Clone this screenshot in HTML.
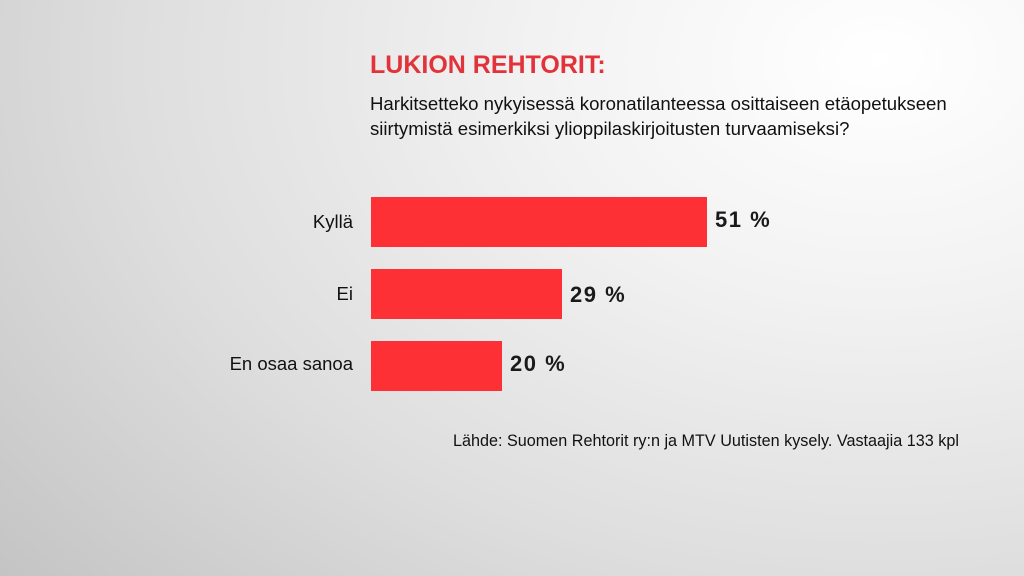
<!DOCTYPE html>
<html><head><meta charset="utf-8"><style>
html,body{margin:0;padding:0}
body{width:1024px;height:576px;position:relative;overflow:hidden;font-family:"Liberation Sans",sans-serif;
background:radial-gradient(ellipse 1150px 800px at 880px 60px,#ffffff 0%,#f2f2f2 30%,#dedede 65%,#c4c4c4 100%);}
.t{position:absolute;white-space:nowrap}
.bar{position:absolute;left:371px;height:50px;background:#fd3036}
.lab{position:absolute;right:671px;font-size:18.5px;color:#111}
.val{position:absolute;font-size:22px;font-weight:bold;color:#1a1a1a;letter-spacing:1.5px}
</style></head><body>
<div class="t" style="left:370px;top:51px;font-size:25px;font-weight:bold;color:#e3333a">LUKION REHTORIT:</div>
<div class="t" style="left:370px;top:91px;font-size:18.6px;line-height:25px;color:#111">Harkitsetteko nykyisessä koronatilanteessa osittaiseen etäopetukseen<br>siirtymistä esimerkiksi ylioppilaskirjoitusten turvaamiseksi?</div>
<div class="bar" style="top:197px;width:336px"></div>
<div class="bar" style="top:269px;width:191px"></div>
<div class="bar" style="top:341px;width:131px"></div>
<div class="t lab" style="top:211px">Kyllä</div>
<div class="t lab" style="top:283px">Ei</div>
<div class="t lab" style="top:353px">En osaa sanoa</div>
<div class="t val" style="left:715px;top:207px">51 %</div>
<div class="t val" style="left:570px;top:282px">29 %</div>
<div class="t val" style="left:510px;top:351px">20 %</div>
<div class="t" style="left:453px;top:432px;font-size:16.2px;color:#111">Lähde: Suomen Rehtorit ry:n ja MTV Uutisten kysely. Vastaajia 133 kpl</div>
</body></html>
